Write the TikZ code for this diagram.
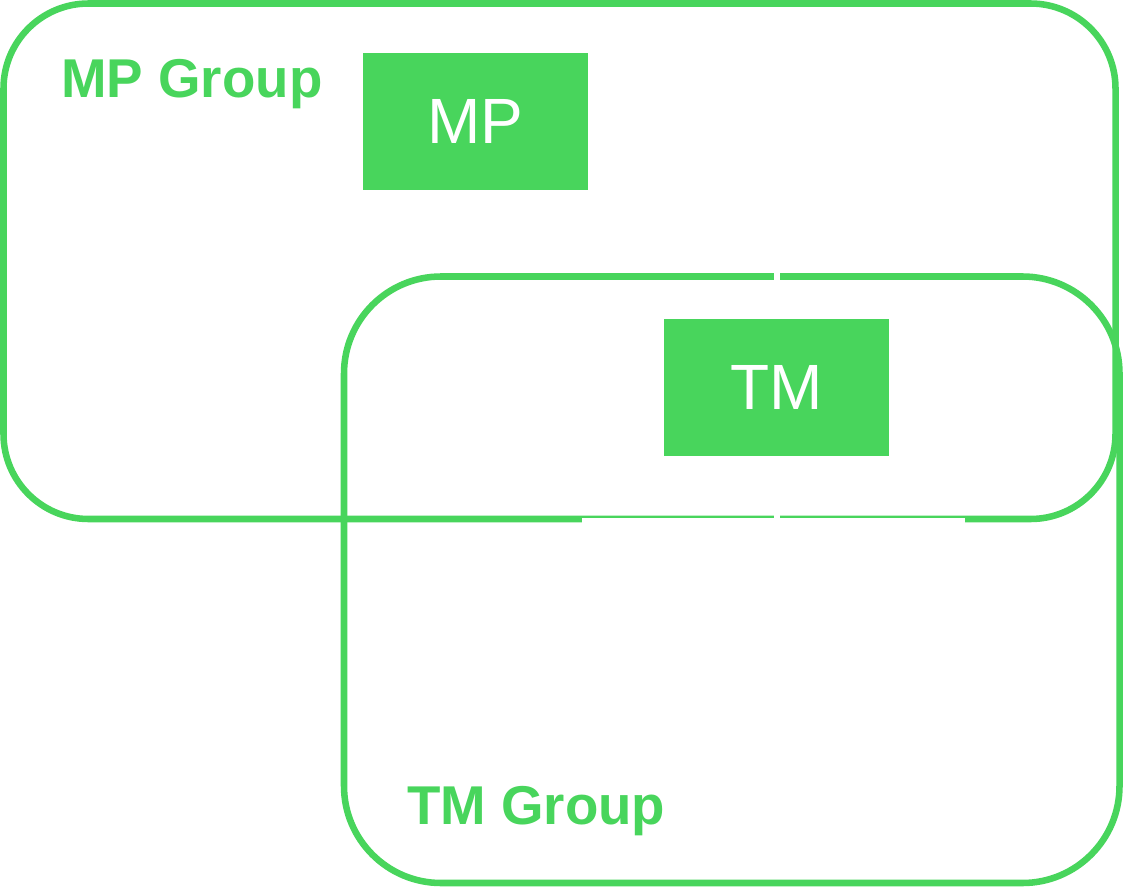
\documentclass[tikz,border=0pt]{standalone}
\usepackage{fontspec}
\setmainfont{Liberation Sans}
\definecolor{grn}{RGB}{72,213,92}
\begin{document}
\begin{tikzpicture}[x=0.75pt,y=-0.75pt,
  groupbox/.style={draw=grn,line width=4.9pt},
  unitbox/.style={fill=grn,draw=none,minimum width=168.75pt,minimum height=102.75pt,inner sep=0pt,text=white,font=\fontsize{48}{56}\selectfont},
  grouplabel/.style={text=grn,inner sep=0pt,anchor=base west,font=\fontsize{41}{49}\selectfont\bfseries},
  hidden/.style={draw=white,line width=4.5pt}]
\useasboundingbox (0,0) rectangle (1123,887);
\fill[white] (0,0) rectangle (1123,887);
\draw[groupbox,rounded corners=63.75pt] (3.5,3.5) rectangle (1115.5,519);
\draw[groupbox,rounded corners=72.75pt] (344,276.5) rectangle (1119.5,883);
\node[unitbox] (mp) at (475.5,121.5) {MP};
\node[unitbox] (tm) at (776.5,387.5) {TM};
\node[grouplabel] (mpg) at (61,98) {MP Group};
\node[grouplabel] (tmg) at (407,824) {TM Group};
\coordinate (upend) at (776.5,240);
\coordinate (lowend) at (776.5,560);
\coordinate (stripl) at (582,521);
\coordinate (stripr) at (965,521);
\draw[hidden] (upend) -- (tm.north);
\draw[hidden] (tm.south) -- (lowend);
\draw[draw=white,line width=4pt] (stripl) -- (stripr);
\end{tikzpicture}
\end{document}
